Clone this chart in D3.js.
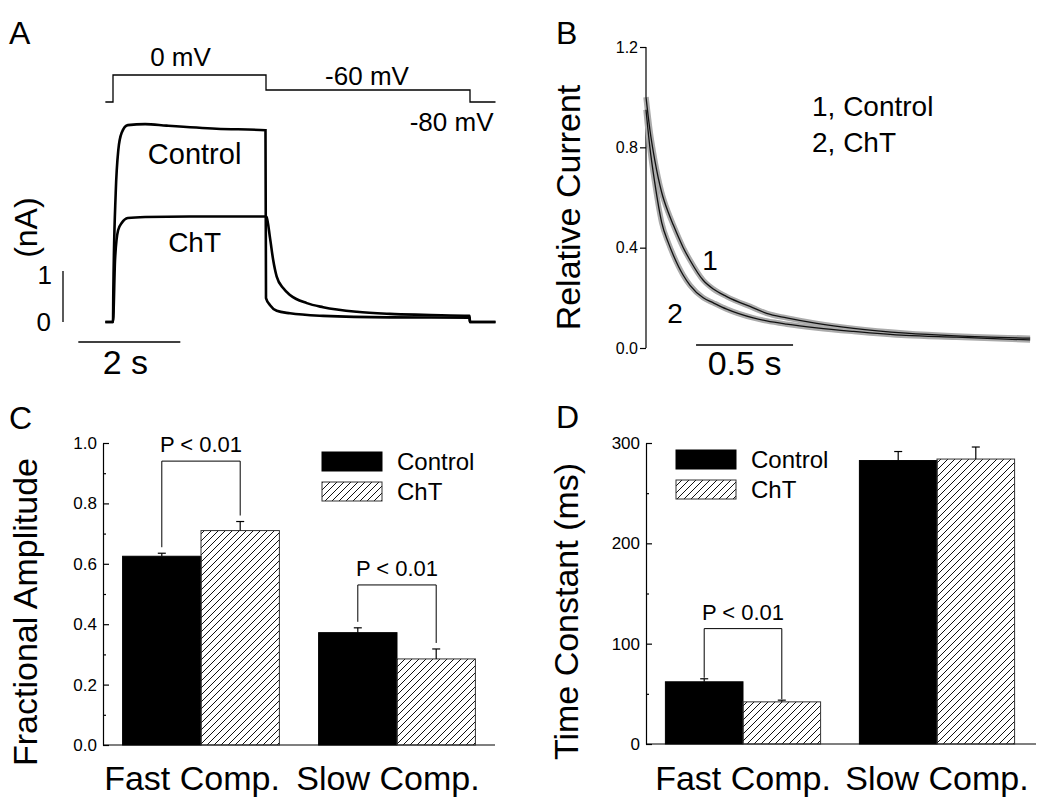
<!DOCTYPE html>
<html><head><meta charset="utf-8">
<script src="https://cdn.jsdelivr.net/npm/d3@7"></script>
<style>
body{margin:0;background:#fff}
svg{display:block}
text{font-family:"Liberation Sans",Arial,Helvetica,sans-serif;fill:#000}
</style>
</head><body>
<script>
// ================= DATA =================
// Panel A: voltage protocol (s, mV)
const protocolTimes  = [-0.15, 0, 3, 7, 7.5];
const protocolLevels = [-80, 0, -60, -80, -80];
const protocolLabels = ["0 mV", "-60 mV", "-80 mV"];
// Panel A: current traces (s, nA)
const ctrlTraceT = [-0.15, 0, 0.006, 0.053, 0.104, 0.17, 0.29, 0.63, 1.05, 2.03, 2.99, 3.0, 3.08, 3.21, 3.47, 4.12, 5.43, 6.99, 7.0, 7.5];
const ctrlTraceI = [0, 0, 0.57, 2.53, 3.37, 3.71, 3.86, 3.88, 3.85, 3.79, 3.76, 0.47, 0.33, 0.22, 0.17, 0.12, 0.09, 0.085, 0, 0];
const chtTraceT  = [-0.15, 0, 0.04, 0.10, 0.17, 0.29, 0.63, 1.5, 2.99, 3.01, 3.08, 3.14, 3.21, 3.34, 3.47, 3.80, 4.12, 4.78, 5.43, 6.08, 6.99, 7.0, 7.5];
const chtTraceI  = [0, 0, 1.22, 1.80, 1.94, 2.04, 2.06, 2.07, 2.07, 2.06, 1.64, 1.22, 0.89, 0.66, 0.53, 0.37, 0.29, 0.20, 0.16, 0.14, 0.12, 0, 0];
const traceLabelsA = ["Control", "ChT"];

// Panel B: normalised tail currents (s, relative)
const tailT    = [0, 0.02, 0.045, 0.081, 0.115, 0.141, 0.192, 0.227, 0.295, 0.347, 0.416, 0.553, 0.622, 0.725, 0.88, 1.07, 1.34, 1.6, 1.98];
const tailCtrl = [1.0, 0.87, 0.75, 0.62, 0.54, 0.49, 0.40, 0.35, 0.27, 0.235, 0.205, 0.16, 0.138, 0.12, 0.098, 0.078, 0.059, 0.048, 0.039];
const tailChT  = [0.95, 0.80, 0.66, 0.50, 0.42, 0.37, 0.29, 0.25, 0.20, 0.18, 0.155, 0.12, 0.108, 0.095, 0.08, 0.066, 0.05, 0.043, 0.032];
const tailTicks = [0, 0.4, 0.8, 1.2];
const tailLegend = ["1, Control", "2, ChT"];

// Panels C & D
const categories = ["Fast Comp.", "Slow Comp."];
const groups = ["Control", "ChT"];
const ampControl = [0.625, 0.372];
const ampControlErr = [0.01, 0.016];
const ampChT = [0.71, 0.285];
const ampChTErr = [0.03, 0.033];
const ampTicks = [0, 0.2, 0.4, 0.6, 0.8, 1.0];
const ampMinor = [0.1, 0.3, 0.5, 0.7, 0.9];
const ampBrackets = [["Fast Comp.", 0.94], ["Slow Comp.", 0.53]];

const tauControl = [62, 282.5];
const tauControlErr = [3, 9];
const tauChT = [42, 284];
const tauChTErr = [1.7, 12];
const tauTicks = [0, 100, 200, 300];
const tauMinor = [50, 150, 250];
const tauBrackets = [["Fast Comp.", 115]];
const sigLabel = "P < 0.01";

// ================= DRAW =================
const W = 1050, H = 810;
const svg = d3.select("body").append("svg").attr("width", W).attr("height", H);
const defs = svg.append("defs");
defs.append("pattern").attr("id", "hatch").attr("patternUnits", "userSpaceOnUse")
  .attr("width", 7).attr("height", 7)
  .append("path").attr("d", "M-1,1 l2,-2 M0,7 l7,-7 M6,8 l2,-2")
  .attr("stroke", "#111").attr("stroke-width", 1);

function panelLabel(t, x, y) {
  svg.append("text").attr("x", x).attr("y", y).attr("font-size", 32).text(t);
}
panelLabel("A", 9, 44); panelLabel("B", 556, 44);
panelLabel("C", 9, 429); panelLabel("D", 556, 428);

// ---------- Panel A ----------
const xA = d3.scaleLinear().domain([0, 1]).range([113, 164]);
const yA = d3.scaleLinear().domain([0, 1]).range([322, 271]);
const vA = d3.scaleLinear().domain([-80, -60, 0]).range([102, 90, 75]);

const gA = svg.append("g");
gA.append("path")
  .datum(protocolTimes.map((t, i) => [t, protocolLevels[i]]))
  .attr("fill", "none").attr("stroke", "#000").attr("stroke-width", 1.3)
  .attr("d", d3.line().x(d => xA(d[0])).y(d => vA(d[1])).curve(d3.curveStepAfter));

const protoMid = [(protocolTimes[1] + protocolTimes[2]) / 2, (protocolTimes[2] + protocolTimes[3]) / 2];
gA.append("text").attr("x", xA(protoMid[0]) - 9).attr("y", vA(protocolLevels[1]) - 9)
  .attr("font-size", 26).attr("text-anchor", "middle").text(protocolLabels[0]);
gA.append("text").attr("x", xA(protoMid[1]) - 1).attr("y", vA(protocolLevels[2]) - 5)
  .attr("font-size", 26).attr("text-anchor", "middle").text(protocolLabels[1]);
gA.append("text").attr("x", xA(protocolTimes[4]) - 2).attr("y", vA(protocolLevels[4]) + 29)
  .attr("font-size", 26).attr("text-anchor", "end").text(protocolLabels[2]);

const lineA = d3.line().x(d => xA(d[0])).y(d => yA(d[1])).curve(d3.curveMonotoneX);
gA.append("path").datum(ctrlTraceT.map((t, i) => [t, ctrlTraceI[i]]))
  .attr("fill", "none").attr("stroke", "#000").attr("stroke-width", 2.6).attr("d", lineA);
gA.append("path").datum(chtTraceT.map((t, i) => [t, chtTraceI[i]]))
  .attr("fill", "none").attr("stroke", "#000").attr("stroke-width", 2.6).attr("d", lineA);

gA.append("text").attr("x", xA(1.6)).attr("y", yA(3.1)).attr("font-size", 29)
  .attr("text-anchor", "middle").text(traceLabelsA[0]);
gA.append("text").attr("x", xA(1.6)).attr("y", yA(1.37)).attr("font-size", 28)
  .attr("text-anchor", "middle").text(traceLabelsA[1]);

// scale bars
const sbX = 63;
gA.append("line").attr("x1", sbX).attr("x2", sbX).attr("y1", yA(0)).attr("y2", yA(1))
  .attr("stroke", "#000").attr("stroke-width", 1.3);
gA.append("text").attr("x", sbX - 11).attr("y", yA(1) + 13).attr("font-size", 26)
  .attr("text-anchor", "end").text("1");
gA.append("text").attr("x", sbX - 12).attr("y", yA(0) + 9).attr("font-size", 26)
  .attr("text-anchor", "end").text("0");
gA.append("text").attr("transform", `translate(37,${yA(1.85)}) rotate(-90)`)
  .attr("font-size", 32).attr("text-anchor", "middle").text("(nA)");
const sbT0 = -0.68;
gA.append("line").attr("x1", xA(sbT0)).attr("x2", xA(sbT0 + 2)).attr("y1", 342).attr("y2", 342)
  .attr("stroke", "#000").attr("stroke-width", 1.3);
gA.append("text").attr("x", xA(sbT0 + 1) - 4).attr("y", 374).attr("font-size", 34)
  .attr("text-anchor", "middle").text("2 s");

// ---------- Panel B ----------
const xB = d3.scaleLinear().domain([0, 2]).range([646, 1034]);
const yB = d3.scaleLinear().domain([0, 1.2]).range([348, 47]);
const gB = svg.append("g");
const axB = gB.append("g").attr("transform", `translate(${xB(0)},0)`)
  .call(d3.axisLeft(yB).tickValues(tailTicks).tickFormat(d3.format(".1f")).tickSize(6).tickSizeOuter(0).tickPadding(2));
axB.selectAll("text").attr("font-size", 16).style("font-family", '"Liberation Sans",Arial,sans-serif');
axB.selectAll("path,line").attr("stroke", "#000").attr("stroke-width", 1.2);
axB.select(".domain").attr("d", `M0,${yB(1.2)}V${yB(0)}`);

const lineB = d3.line().x((d, i) => xB(tailT[i])).y(d => yB(d)).curve(d3.curveMonotoneX);
[tailCtrl, tailChT].forEach(s => {
  gB.append("path").datum(s).attr("fill", "none").attr("stroke", "#ababab")
    .attr("stroke-width", 5.5).attr("d", lineB);
});
[tailCtrl, tailChT].forEach(s => {
  gB.append("path").datum(s).attr("fill", "none").attr("stroke", "#111")
    .attr("stroke-width", 1.3).attr("d", lineB);
});
gB.append("text").attr("x", xB(0.29)).attr("y", yB(0.31)).attr("font-size", 28).text("1");
gB.append("text").attr("x", xB(0.11)).attr("y", yB(0.1)).attr("font-size", 28).text("2");
gB.append("text").attr("x", 812).attr("y", 116).attr("font-size", 28).text(tailLegend[0]);
gB.append("text").attr("x", 812).attr("y", 152).attr("font-size", 28).text(tailLegend[1]);
gB.append("text").attr("transform", `translate(580,${yB(0.56)}) rotate(-90)`)
  .attr("font-size", 34).attr("text-anchor", "middle").text("Relative Current");
const sbB0 = 0.258;
gB.append("line").attr("x1", xB(sbB0)).attr("x2", xB(sbB0 + 0.5)).attr("y1", 345).attr("y2", 345)
  .attr("stroke", "#000").attr("stroke-width", 1.3);
gB.append("text").attr("x", xB(sbB0 + 0.25)).attr("y", 375).attr("font-size", 34)
  .attr("text-anchor", "middle").text("0.5 s");

// ---------- Bar panels ----------
function barPanel(opt) {
  const g = svg.append("g");
  const x0 = d3.scaleBand().domain(categories).range(opt.xr).paddingInner(0.2).paddingOuter(0.1);
  const x1 = d3.scaleBand().domain(groups).range([0, x0.bandwidth()]);
  const y = d3.scaleLinear().domain(opt.domain).range(opt.yr);
  const ax = g.append("g").attr("transform", `translate(${opt.xr[0]},0)`)
    .call(d3.axisLeft(y).tickValues(opt.ticks).tickFormat(opt.fmt).tickSize(-6).tickSizeOuter(0).tickPadding(6));
  ax.selectAll("text").attr("font-size", 17).style("font-family", '"Liberation Sans",Arial,sans-serif');
  ax.selectAll("path,line").attr("stroke", "#000").attr("stroke-width", 1.2);
  const axm = g.append("g").attr("transform", `translate(${opt.xr[0]},0)`)
    .call(d3.axisLeft(y).tickValues(opt.minor).tickFormat("").tickSize(-3).tickSizeOuter(0));
  axm.select(".domain").remove();
  axm.selectAll("line").attr("stroke", "#000").attr("stroke-width", 1.2);
  g.append("line").attr("x1", opt.xr[0]).attr("x2", opt.xEnd).attr("y1", y(0)).attr("y2", y(0))
    .attr("stroke", "#000").attr("stroke-width", 1.2);

  const series = [
    { key: "Control", v: opt.ctrl, e: opt.ctrlErr },
    { key: "ChT", v: opt.cht, e: opt.chtErr }
  ];
  series.forEach(s => {
    categories.forEach((c, i) => {
      const bx = x0(c) + x1(s.key), bw = x1.bandwidth();
      g.append("rect").attr("x", bx).attr("y", y(s.v[i])).attr("width", bw)
        .attr("height", y(0) - y(s.v[i]))
        .attr("fill", s.key === "Control" ? "#000" : "url(#hatch)")
        .attr("stroke", s.key === "Control" ? "#000" : "#333").attr("stroke-width", 1);
      const cx = bx + bw / 2;
      g.append("line").attr("x1", cx).attr("x2", cx).attr("y1", y(s.v[i])).attr("y2", y(s.v[i] + s.e[i]))
        .attr("stroke", "#000").attr("stroke-width", 1.2);
      g.append("line").attr("x1", cx - 4).attr("x2", cx + 4).attr("y1", y(s.v[i] + s.e[i])).attr("y2", y(s.v[i] + s.e[i]))
        .attr("stroke", "#000").attr("stroke-width", 1.2);
    });
  });

  opt.brackets.forEach(([c, lvl]) => {
    const i = categories.indexOf(c);
    const xl = x0(c) + x1("Control") + x1.bandwidth() / 2;
    const xr = x0(c) + x1("ChT") + x1.bandwidth() / 2;
    const yl = y(opt.ctrl[i] + opt.ctrlErr[i]) - opt.gap;
    const yr = y(opt.cht[i] + opt.chtErr[i]) - opt.gap;
    const yt = y(lvl);
    g.append("path").attr("d", `M${xl},${yl}V${yt}H${xr}V${yr}`)
      .attr("fill", "none").attr("stroke", "#000").attr("stroke-width", 1);
    g.append("text").attr("x", (xl + xr) / 2).attr("y", yt - 9).attr("font-size", 22)
      .attr("text-anchor", "middle").text(sigLabel);
  });

  categories.forEach(c => {
    g.append("text").attr("x", x0(c) + x0.bandwidth() / 2 + opt.labelShift).attr("y", 790)
      .attr("font-size", 34).attr("text-anchor", "middle").text(c);
  });

  // legend
  groups.forEach((k, i) => {
    const ly = opt.legY + i * 30;
    g.append("rect").attr("x", opt.legX).attr("y", ly).attr("width", 60).attr("height", 19)
      .attr("fill", k === "Control" ? "#000" : "url(#hatch)")
      .attr("stroke", k === "Control" ? "#000" : "#333").attr("stroke-width", 1);
    g.append("text").attr("x", opt.legX + 75).attr("y", ly + 18).attr("font-size", 24).text(k);
  });

  g.append("text").attr("transform", `translate(${opt.titleX},${(opt.yr[0] + opt.yr[1]) / 2 + 18}) rotate(-90)`)
    .attr("font-size", 34).attr("text-anchor", "middle").text(opt.title);
}

barPanel({
  xr: [103, 495], xEnd: 495, domain: [0, 1], yr: [745, 443],
  ticks: ampTicks, minor: ampMinor, fmt: d3.format(".1f"),
  ctrl: ampControl, ctrlErr: ampControlErr, cht: ampChT, chtErr: ampChTErr,
  brackets: ampBrackets, gap: 6, labelShift: -9,
  legX: 322, legY: 452, title: "Fractional Amplitude", titleX: 37
});
barPanel({
  xr: [646, 1034], xEnd: 1036, domain: [0, 300], yr: [744, 443],
  ticks: tauTicks, minor: tauMinor, fmt: d3.format("d"),
  ctrl: tauControl, ctrlErr: tauControlErr, cht: tauChT, chtErr: tauChTErr,
  brackets: tauBrackets, gap: 1, labelShift: 0,
  legX: 676, legY: 450, title: "Time Constant (ms)", titleX: 578
});
</script>
</body></html>
